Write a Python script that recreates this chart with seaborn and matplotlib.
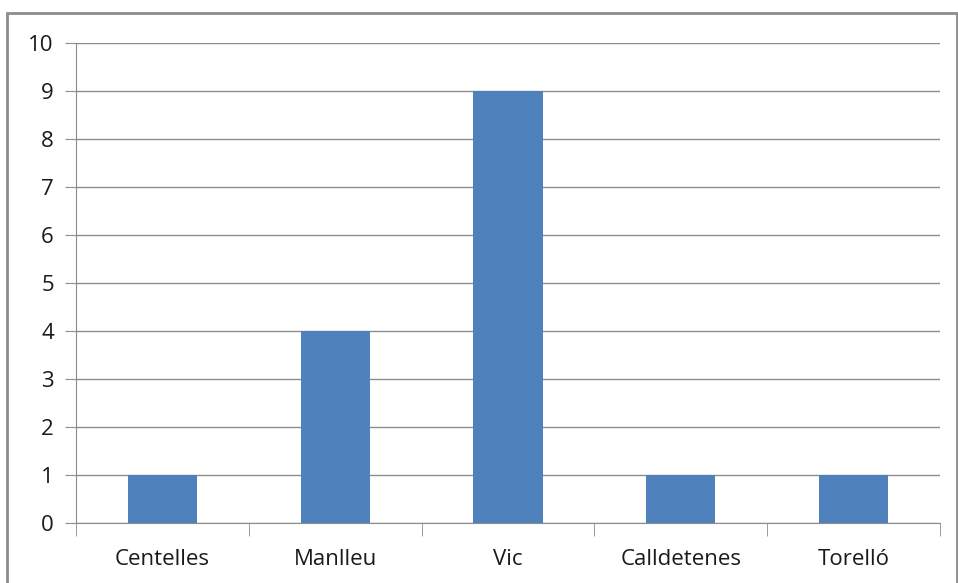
import numpy as np
import pandas as pd
import matplotlib
matplotlib.use("Agg")
import matplotlib.pyplot as plt
import seaborn as sns
from matplotlib.patches import Rectangle

towns = ['Centelles', 'Manlleu', 'Vic', 'Calldetenes', 'Torelló']
counts = [1, 4, 9, 1, 1]

df = pd.DataFrame({'town': towns, 'n': counts})

sns.set_style('white')
plt.rcParams['font.family'] = ['Open Sans', 'DejaVu Sans']

fig = plt.figure(figsize=(9.58, 5.83), dpi=100)
W, H = 958, 583
ax = fig.add_axes([76 / W, 1 - 523 / H, (940 - 76) / W, (523 - 43) / H])

# outer chart frame
fig.patches.append(Rectangle((7 / W, -0.05), (957 - 7) / W, 1 - 13 / H + 0.05,
                             transform=fig.transFigure, fill=False,
                             edgecolor='#8c8c8c', linewidth=2))

sns.barplot(data=df, x='town', y='n', color='#4F81BD', saturation=1,
            width=0.4, linewidth=0, ax=ax, zorder=3)

ax.set_ylim(0, 10)
ax.set_xlim(-0.5, 4.5)
ax.set_yticks(range(0, 11))
ax.yaxis.grid(True, color='#8c8c8c', linewidth=1)
ax.set_axisbelow(True)
ax.set_xlabel('')
ax.set_ylabel('')

for s in ['top', 'right']:
    ax.spines[s].set_visible(False)
ax.spines['left'].set_color('#8c8c8c')
ax.spines['bottom'].set_color('#8c8c8c')

ax.tick_params(axis='y', length=8, color='#8c8c8c', labelsize=16, pad=8,
               direction='out', left=True, labelcolor='#1a1a1a')
ax.tick_params(axis='x', which='major', length=0, labelsize=16, pad=19,
               labelcolor='#1a1a1a')
ax.set_xticks(np.arange(-0.5, 5, 1), minor=True)
ax.tick_params(axis='x', which='minor', length=9, color='#8c8c8c', direction='out', bottom=True)

fig.savefig('out.png', dpi=100)
